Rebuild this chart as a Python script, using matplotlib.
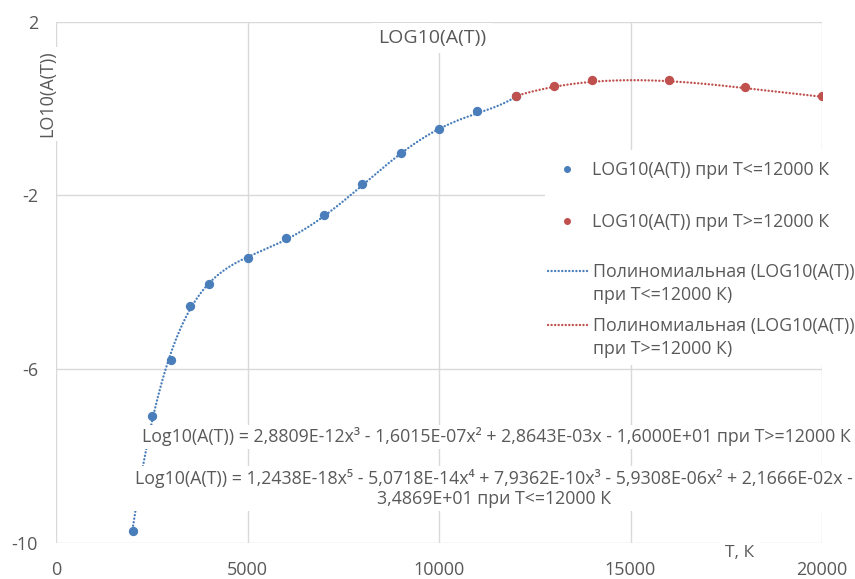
import numpy as np
import matplotlib
matplotlib.use("Agg")
import matplotlib.pyplot as plt
from matplotlib.legend import Legend
from matplotlib.lines import Line2D
from matplotlib.patches import Rectangle

plt.rcParams['font.family'] = ['Open Sans', 'DejaVu Sans']
plt.rcParams['axes.unicode_minus'] = False

# Measured points, T in K
t_low = [2000, 2500, 3000, 3500, 4000, 5000, 6000, 7000, 8000, 9000, 10000, 11000, 12000]
log_a_low = [-9.72, -7.07, -5.78, -4.54, -4.03, -3.43, -2.97, -2.44, -1.73, -1.02, -0.46, -0.05, 0.29]
t_high = [12000, 13000, 14000, 16000, 18000, 20000]
log_a_high = [0.29, 0.52, 0.65, 0.66, 0.50, 0.28]

# Polynomial trend coefficients (highest power first)
coef_low = [1.2438e-18, -5.0718e-14, 7.9362e-10, -5.9308e-06, 2.1666e-02, -3.4869e+01]
coef_high = [2.8809e-12, -1.6015e-07, 2.8643e-03, -1.6000e+01]

x_ticks = [0, 5000, 10000, 15000, 20000]
y_ticks = [2, -2, -6, -10]

label_low = "LOG10(A(T)) при T<=12000 К"
label_high = "LOG10(A(T)) при T>=12000 К"
trend_low_l1, trend_low_l2 = "Полиномиальная (LOG10(A(T))", "при T<=12000 К)"
trend_high_l1, trend_high_l2 = "Полиномиальная (LOG10(A(T))", "при T>=12000 К)"
eq_high = "Log10(A(T)) = 2,8809E-12x³ - 1,6015E-07x² + 2,8643E-03x - 1,6000E+01 при T>=12000 К"
eq_low = ("Log10(A(T)) = 1,2438E-18x⁵ - 5,0718E-14x⁴ + 7,9362E-10x³ - 5,9308E-06x² + 2,1666E-02x -\n"
          "3,4869E+01 при T<=12000 К")

BLUE = "#4a7ebb"
RED = "#c0504d"
TXT = "#595959"
GRID = "#d9d9d9"
DOTS = (0, (0.05, 1.45))

W, H = 855, 579
fig = plt.figure(figsize=(W / 100, H / 100), dpi=100)
ax = fig.add_axes([56 / W, 36 / H, (822 - 56) / W, (543 - 21.7) / H])


def fx(px):
    return px / W


def fy(py):
    return 1 - py / H


# trend lines
xs_low = np.linspace(t_low[0], t_low[-1], 400)
xs_high = np.linspace(t_high[0], t_high[-1], 400)
ax.plot(xs_low, np.polyval(coef_low, xs_low), color=BLUE, lw=1.7,
        linestyle=DOTS, dash_capstyle='round', zorder=2)
ax.plot(xs_high, np.polyval(coef_high, xs_high), color=RED, lw=1.7,
        linestyle=DOTS, dash_capstyle='round', zorder=2)

# data points
ax.plot(t_low, log_a_low, 'o', color=BLUE, ms=5.7, mec=BLUE, zorder=3)
ax.plot(t_high, log_a_high, 'o', color=RED, ms=5.7, mec=RED, zorder=3)

ax.set_xlim(0, 20000)
ax.set_ylim(-10, 2)
ax.set_xticks(x_ticks)
ax.set_yticks(y_ticks)
ax.set_axisbelow(True)
ax.grid(True, color=GRID, lw=1.0)
for s in ax.spines.values():
    s.set_visible(False)
ax.tick_params(length=0, labelsize=13, labelcolor=TXT)
ax.tick_params(axis='y', pad=13)
ax.tick_params(axis='x', pad=13)

# titles
fig.text(fx(432), fy(38), "LOG10(A(T))", ha='center', va='center', fontsize=14,
         color=TXT, bbox=dict(boxstyle='square,pad=0.3', fc='white', ec='none'))
fig.text(fx(47), fy(94), "LO10(A(T))", ha='center', va='center', rotation=90,
         fontsize=13, color=TXT,
         bbox=dict(boxstyle='square,pad=0.2', fc='white', ec='none'))
fig.text(fx(740), fy(553), "T, К", ha='center', va='center', fontsize=12.5,
         color=TXT, bbox=dict(boxstyle='square,pad=0.3', fc='white', ec='none'))

# trend equations
fig.text(fx(496), fy(437), eq_high, ha='center', va='center', fontsize=12.8,
         color=TXT, bbox=dict(boxstyle='square,pad=0.15', fc='white', ec='none'),
         zorder=4)
fig.text(fx(494), fy(488.5), eq_low, ha='center', va='center', fontsize=12.8,
         color=TXT, linespacing=1.2, multialignment='center',
         bbox=dict(boxstyle='square,pad=0.15', fc='white', ec='none'), zorder=4)

# legend background
ax.add_patch(Rectangle((fx(545), fy(365)), (W - 545) / W, (365 - 150) / H,
                       transform=fig.transFigure, fc='white', ec='none',
                       clip_on=False, zorder=4))

legend_style = dict(loc='upper left', bbox_transform=fig.transFigure, frameon=False,
                    fontsize=12.8, borderpad=0, borderaxespad=0, labelcolor=TXT)


def add_legend(handles, labels, top_px, left_px, **kw):
    leg = Legend(ax, handles, labels, bbox_to_anchor=(fx(left_px), fy(top_px)),
                 **legend_style, **kw)
    leg.set_zorder(5)
    ax.add_artist(leg)
    return leg


pt_low = Line2D([], [], marker='o', ls='none', color=BLUE, ms=4)
pt_high = Line2D([], [], marker='o', ls='none', color=RED, ms=4)
add_legend([pt_low, pt_high], [label_low, label_high], 161, 558,
           handlelength=1.0, handletextpad=0.9, labelspacing=1.9)

# trend-line entries: handle beside the first line of each two-line label
blank = Line2D([], [], ls='none')
trend_entries = [
    (BLUE, trend_low_l1, trend_low_l2, 263),
    (RED, trend_high_l1, trend_high_l2, 317.5),
]
for color, l1, l2, top in trend_entries:
    ln = Line2D([], [], color=color, lw=1.7, ls=DOTS, dash_capstyle='round')
    add_legend([ln, blank], [l1, l2], top, 548,
               handlelength=2.35, handletextpad=0.2, labelspacing=0.27)

fig.savefig("out.png", dpi=100, facecolor='white')
